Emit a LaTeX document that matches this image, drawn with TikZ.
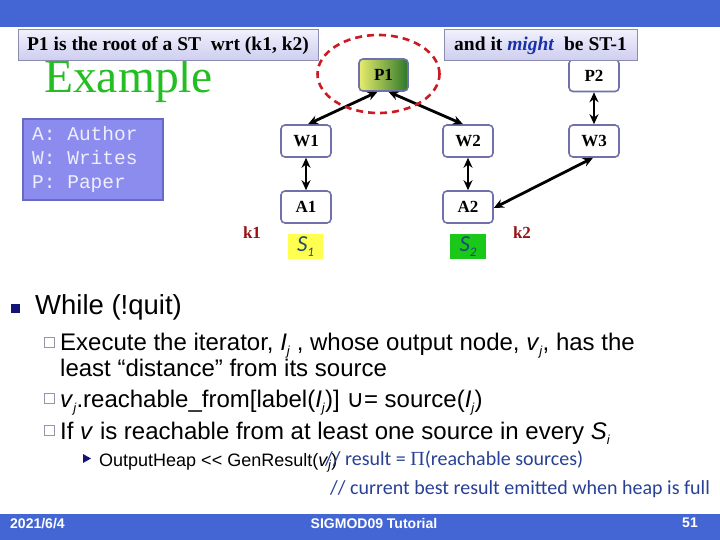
\documentclass[tikz,border=0pt]{standalone}
\usepackage{fontspec}
\setmainfont{Liberation Serif}
\setsansfont{Liberation Sans}
\setmonofont{Liberation Mono}
\newfontfamily\carl{Carlito}
\newfontfamily\dejavu{DejaVu Sans}
\usetikzlibrary{arrows.meta,shapes.geometric}
\definecolor{barblue}{RGB}{68,102,212}
\definecolor{nodeborder}{RGB}{112,112,170}
\definecolor{legendfill}{RGB}{140,140,238}
\definecolor{legendborder}{RGB}{105,105,195}
\definecolor{legendtext}{RGB}{238,238,255}
\definecolor{exgreen}{RGB}{34,190,34}
\definecolor{kred}{RGB}{150,20,20}
\definecolor{dashred}{RGB}{205,25,35}
\definecolor{sblue}{RGB}{30,75,115}
\definecolor{cmtblue}{RGB}{40,65,150}
\definecolor{navy}{RGB}{20,20,120}
\definecolor{hollow}{RGB}{150,150,170}
\definecolor{calltop}{RGB}{240,240,253}
\definecolor{callbot}{RGB}{205,205,240}
\definecolor{callborder}{RGB}{140,140,175}
\definecolor{mightblue}{RGB}{25,50,170}
\newcommand\lowsub[1]{\raisebox{-0.4ex}{\fontsize{13}{13}\selectfont\textit{#1}}}
\tikzset{
  gnode/.style={draw=nodeborder, line width=1.6pt, rounded corners=4pt, fill=white,
    minimum width=50pt, minimum height=32pt, inner sep=0pt,
    font=\fontsize{17}{17}\selectfont\bfseries},
  dbl/.style={line width=2.8pt, {Stealth[length=10pt,width=9pt]}-{Stealth[length=10pt,width=9pt]}},
  callout/.style={draw=callborder, line width=1pt, top color=calltop, bottom color=callbot,
    minimum height=31pt, inner sep=0pt, font=\fontsize{19.5}{19.5}\selectfont\bfseries},
  txt/.style={anchor=base west, inner sep=0pt},
  bodytxt/.style={txt, font=\sffamily\fontsize{24}{24}\selectfont},
  cmt/.style={txt, text=cmtblue, font=\carl\fontsize{20}{20}\selectfont},
  sbox/.style={minimum width=35pt, minimum height=25pt, inner sep=0pt,
    text=sblue, font=\carl\fontsize{23}{23}\selectfont},
  ktxt/.style={text=kred, font=\fontsize{17}{17}\selectfont\bfseries, inner sep=0pt},
  foot/.style={text=white, inner sep=0pt, font=\sffamily\bfseries\fontsize{14}{14}\selectfont}
}
\begin{document}
\begin{tikzpicture}[x=1pt,y=-1pt]
\useasboundingbox (0,0) rectangle (720,540);
\fill[white] (0,0) rectangle (720,540);
% bars
\fill[barblue] (0,0) rectangle (720,27);
\fill[barblue] (0,514) rectangle (720,540);
\node[foot, anchor=base west] (date) at (10,528) {2021/6/4};
\node[foot, anchor=base] (conf) at (374,528) {SIGMOD09 Tutorial};
\node[foot, anchor=base] (page) at (690,527) {51};
% title
\node[txt, text=exgreen, font=\fontsize{47.5}{47.5}\selectfont] (title) at (44,92.5) {Example};
% legend
\node[draw=legendborder, line width=1.5pt, fill=legendfill, minimum width=140pt, minimum height=81pt, inner sep=0pt] (legend) at (93,159.5) {};
\node[txt, text=legendtext, font=\ttfamily\fontsize{19.5}{19.5}\selectfont] (la) at (32,141) {A: Author};
\node[txt, text=legendtext, font=\ttfamily\fontsize{19.5}{19.5}\selectfont] (lw) at (32,165) {W: Writes};
\node[txt, text=legendtext, font=\ttfamily\fontsize{19.5}{19.5}\selectfont] (lp) at (32,189) {P: Paper};
% graph nodes
\node[gnode, draw=nodeborder, left color={rgb,255:red,232;green,236;blue,110}, right color={rgb,255:red,45;green,120;blue,40}, minimum width=49pt] (P1) at (383.5,75) {P1};
\node[gnode] (P2) at (594,75.5) {P2};
\node[gnode] (W1) at (306,141) {W1};
\node[gnode] (W2) at (468,141) {W2};
\node[gnode] (W3) at (594,141) {W3};
\node[gnode] (A1) at (306,207) {A1};
\node[gnode] (A2) at (468,207) {A2};
% edges
\draw[dbl] ([xshift=-6pt]P1.south) -- ([xshift=2pt]W1.north);
\draw[dbl] ([xshift=5pt]P1.south) -- ([xshift=-5pt]W2.north);
\draw[dbl] (P2.south) -- (W3.north);
\draw[dbl] (W1.south) -- (A1.north);
\draw[dbl] (W2.south) -- (A2.north);
\draw[dbl] ([xshift=-1pt]W3.south) -- ([yshift=-1pt]A2.east);
% dashed ellipse around P1
\draw[dashred, line width=2.6pt, dash pattern=on 7pt off 5pt] (378.5,74) ellipse [x radius=61pt, y radius=39pt];
% S boxes and k labels
\node[sbox, fill={rgb,255:red,255;green,255;blue,80}] (S1) at (305.5,246.5) {\textit{S}\lowsub{1}};
\node[sbox, fill={rgb,255:red,25;green,200;blue,25}, minimum width=36pt] (S2) at (468,246.5) {\textit{S}\lowsub{2}};
\node[ktxt] (k1) at (252,233) {k1};
\node[ktxt] (k2) at (522,233) {k2};
% callouts
\node[callout, minimum width=300pt] (c1) at (168,45.5) {P1 is the root of a ST\ \ wrt (k1, k2)};
\node[callout, minimum width=193pt] (c2) at (540.5,45.5) {and it \textcolor{mightblue}{\textit{might}}\ \ be ST-1};
% bullets
\fill[navy] (11,304) rectangle (20,313);
\node[bodytxt, font=\sffamily\fontsize{27.5}{27.5}\selectfont] (l0) at (35,314) {While (!quit)};
\draw[hollow, line width=0.8pt] (44,337) rectangle (54,347);
\node[bodytxt] (l1) at (60,350) {Execute the iterator, \textit{I}\lowsub{j} , whose output node, \textit{v}\lowsub{j}, has the};
\node[bodytxt] (l2) at (60,376) {least “distance” from its source};
\draw[hollow, line width=0.8pt] (44,393) rectangle (54,403);
\node[bodytxt] (l3) at (60,407) {\textit{v}\lowsub{j}.reachable\_from[label(\textit{I}\lowsub{j})] {\dejavu ∪}= source(\textit{I}\lowsub{j})};
\draw[hollow, line width=0.8pt] (44,425) rectangle (54,435);
\node[bodytxt] (l4) at (60,439) {If \textit{v} is reachable from at least one source in every \textit{S}\lowsub{i}};
\fill[navy] (83,454) -- (91,458.5) -- (83,463) -- cycle;
\node[bodytxt, font=\sffamily\fontsize{18}{18}\selectfont] (l5) at (99,466) {OutputHeap <{}< GenResult(\textit{v}\lowsub{j})};
\node[cmt] (cm1) at (325,465) {// result = {\rmfamily Π}(reachable sources)};
\node[cmt] (cm2) at (330,494) {// current best result emitted when heap is full};
\end{tikzpicture}
\end{document}
